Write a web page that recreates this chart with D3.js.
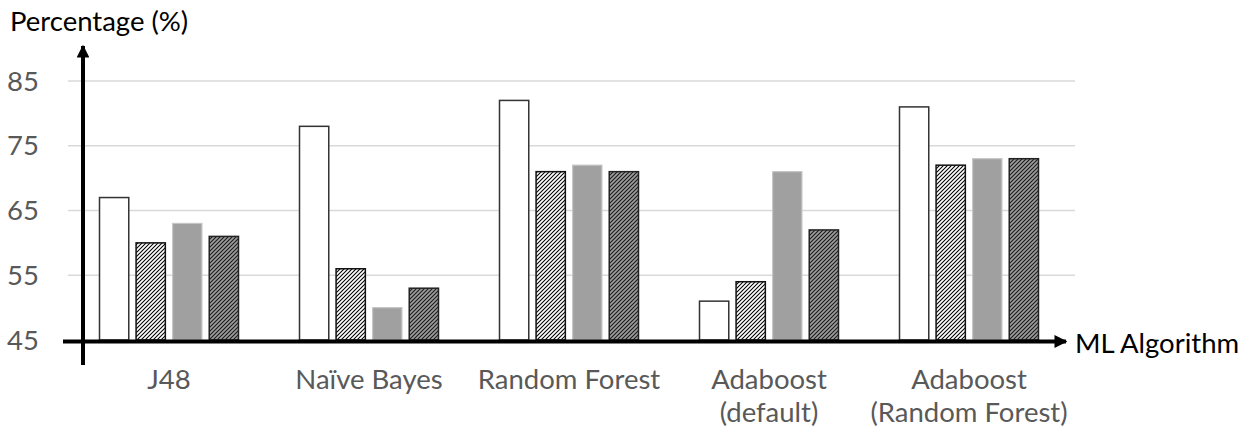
<!DOCTYPE html>
<html>
<head>
<meta charset="utf-8">
<script src="https://cdn.jsdelivr.net/npm/d3@7"></script>
<style>
  html, body { margin: 0; padding: 0; background: #fff; }
  svg { display: block; font-family: Lato, "Open Sans", sans-serif; }
</style>
</head>
<body>
<svg id="chart" width="1250" height="434"></svg>
<script>
// ---- data ----
const categories = ["J48", "Naïve Bayes", "Random Forest", "Adaboost\n(default)", "Adaboost\n(Random Forest)"];
const series1 = [67, 78, 82, 51, 81];
const series2 = [60, 56, 71, 54, 72];
const series3 = [63, 50, 72, 71, 73];
const series4 = [61, 53, 71, 62, 73];
const yTicks = [45, 55, 65, 75, 85];
const yTitle = "Percentage (%)";
const xTitle = "ML Algorithm";

const seriesList = [series1, series2, series3, series4];
const seriesKeys = ["s1", "s2", "s3", "s4"];

const svg = d3.select("#chart");

// patterns
const defs = svg.append("defs");
function hatch(id, bg, lineColor, w) {
  const p = defs.append("pattern")
    .attr("id", id).attr("patternUnits", "userSpaceOnUse")
    .attr("width", 4).attr("height", 4);
  p.append("rect").attr("width", 4).attr("height", 4).attr("fill", bg);
  p.append("path")
    .attr("d", "M-1,1 l2,-2 M0,4 l4,-4 M3,5 l2,-2")
    .attr("stroke", lineColor).attr("stroke-width", w);
}
hatch("hatchWhite", "#ffffff", "#000000", 1.05);
hatch("hatchGray", "#9c9c9c", "#1a1a1a", 1.1);

const styles = {
  s1: { fill: "#ffffff", stroke: "#333333", sw: 1.5 },
  s2: { fill: "url(#hatchWhite)", stroke: "#111111", sw: 1.5 },
  s3: { fill: "#a0a0a0", stroke: "#c4c4c4", sw: 1.2 },
  s4: { fill: "url(#hatchGray)", stroke: "#222222", sw: 1.5 }
};

// scales
const x0 = d3.scaleBand().domain(categories).range([69, 1069]).paddingInner(0).paddingOuter(0);
const groupPad = 30.5;
const x1 = d3.scaleBand().domain(seriesKeys).range([groupPad, x0.bandwidth() - groupPad]).paddingInner(0.2).paddingOuter(0);
const y = d3.scaleLinear().domain([45, 85]).range([340, 81]);

// gridlines
svg.append("g").selectAll("line").data(yTicks.filter(d => d !== 45)).join("line")
  .attr("x1", 68).attr("x2", 1075)
  .attr("y1", d => y(d)).attr("y2", d => y(d))
  .attr("stroke", "#d9d9d9").attr("stroke-width", 1.5);

// y tick labels
svg.append("g").selectAll("text").data(yTicks).join("text")
  .attr("x", 39).attr("y", d => y(d)).attr("dy", "0.35em")
  .attr("text-anchor", "end")
  .attr("font-size", 27.5).attr("fill", "#595959")
  .text(d => d);

// bars
const groups = svg.append("g").selectAll("g").data(categories).join("g")
  .attr("transform", d => `translate(${x0(d)},0)`);
groups.selectAll("rect")
  .data((d, i) => seriesKeys.map((k, j) => ({ key: k, value: seriesList[j][i] })))
  .join("rect")
  .attr("x", d => x1(d.key))
  .attr("width", x1.bandwidth())
  .attr("y", d => y(d.value))
  .attr("height", d => y(45) - y(d.value))
  .attr("fill", d => styles[d.key].fill)
  .attr("stroke", d => styles[d.key].stroke)
  .attr("stroke-width", d => styles[d.key].sw);

// axes with arrows
defs.append("marker").attr("id", "arrow")
  .attr("viewBox", "0 0 10 10").attr("refX", 9).attr("refY", 5)
  .attr("markerWidth", 3.2).attr("markerHeight", 3.2).attr("markerUnits", "strokeWidth")
  .attr("orient", "auto")
  .append("path").attr("d", "M0,0 L10,5 L0,10 Z").attr("fill", "#000");

svg.append("line")
  .attr("x1", 63).attr("x2", 1066).attr("y1", 341.5).attr("y2", 341.5)
  .attr("stroke", "#000").attr("stroke-width", 4)
  .attr("marker-end", "url(#arrow)");
svg.append("line")
  .attr("x1", 83).attr("x2", 83).attr("y1", 365).attr("y2", 46)
  .attr("stroke", "#000").attr("stroke-width", 4)
  .attr("marker-end", "url(#arrow)");

// category labels
const lab = svg.append("g").selectAll("text").data(categories).join("text")
  .attr("x", d => x0(d) + x0.bandwidth() / 2)
  .attr("y", 389)
  .attr("text-anchor", "middle")
  .attr("font-size", 27.5).attr("fill", "#595959");
lab.selectAll("tspan").data(d => d.split("\n")).join("tspan")
  .attr("x", function() { return d3.select(this.parentNode).attr("x"); })
  .attr("dy", (d, i) => i === 0 ? 0 : 33)
  .text(d => d);

// axis titles
svg.append("text").attr("x", 10).attr("y", 31)
  .attr("font-size", 27.5).attr("fill", "#000").text(yTitle);
svg.append("text").attr("x", 1075).attr("y", 353)
  .attr("font-size", 27.5).attr("fill", "#000").text(xTitle);
</script>
</body>
</html>
